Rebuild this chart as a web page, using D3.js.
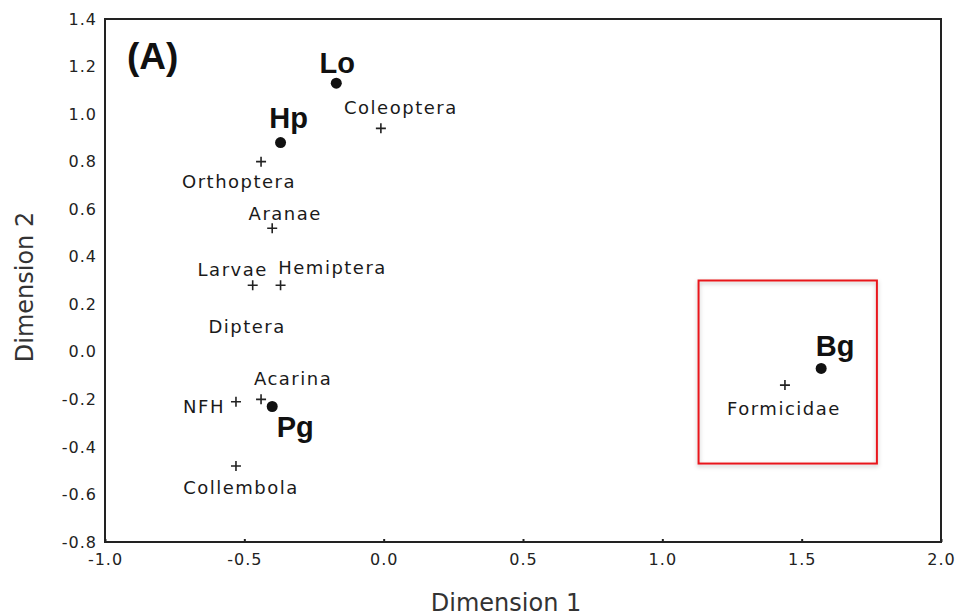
<!DOCTYPE html>
<html>
<head>
<meta charset="utf-8">
<script src="https://cdn.jsdelivr.net/npm/d3@7"></script>
<style>
  body { margin: 0; background: #fff; }
  text { fill: #111; }
</style>
</head>
<body>
<div id="my_dataviz"></div>
<script>
// sites (filled dots)
var siteNames = ["Lo", "Hp", "Pg", "Bg"];
var siteX = [-0.17, -0.37, -0.40, 1.57];
var siteY = [1.13, 0.88, -0.23, -0.07];

// taxa (plus markers)
var taxaNames = ["Coleoptera", "Orthoptera", "Aranae", "Larvae", "Hemiptera", "Diptera", "Acarina", "NFH", "Collembola", "Formicidae"];
var taxaX = [-0.01, -0.44, -0.40, -0.47, -0.37, -0.49, -0.44, -0.53, -0.53, 1.44];
var taxaY = [0.94, 0.80, 0.52, 0.28, 0.28, 0.04, -0.20, -0.21, -0.48, -0.14];

var xTicks = [-1.0, -0.5, 0.0, 0.5, 1.0, 1.5, 2.0];
var yTicks = [-0.8, -0.6, -0.4, -0.2, 0.0, 0.2, 0.4, 0.6, 0.8, 1.0, 1.2, 1.4];

// highlighted region (data units): x0, x1, y0, y1
var boxX = [1.13, 1.77];
var boxY = [-0.47, 0.30];

// label placement, pixels relative to marker
var taxaLabel = {
  "Coleoptera": [20, -21, "middle"],
  "Orthoptera": [-22, 20, "middle"],
  "Aranae": [13, -15, "middle"],
  "Larvae": [-20, -16, "middle"],
  "Hemiptera": [52, -18, "middle"],
  "Diptera": [0, -16, "middle"],
  "Acarina": [32, -21, "middle"],
  "NFH": [-11, 5, "end"],
  "Collembola": [5, 22, "middle"],
  "Formicidae": [-1, 23, "middle"]
};
var hiddenMarkers = ["Diptera"];
var siteLabel = {
  "Lo": [1, -10],
  "Hp": [8, -15],
  "Pg": [23, 31],
  "Bg": [14, -12]
};

var margin = {top: 19, right: 16, bottom: 74, left: 105},
    width = 957 - margin.left - margin.right,
    height = 616 - margin.top - margin.bottom;

// plain hyphen for negatives, like the original
var fmt = function (d) { return d3.format(".1f")(d).replace("\u2212", "-"); };

var svg = d3.select("#my_dataviz")
  .append("svg")
    .attr("width", 957)
    .attr("height", 616)
  .append("g")
    .attr("transform", "translate(" + margin.left + "," + margin.top + ")");

var x = d3.scaleLinear().domain([-1, 2]).range([0, width]);
var y = d3.scaleLinear().domain([-0.8, 1.4]).range([height, 0]);

var defs = svg.append("defs");
var shadow = defs.append("filter").attr("id", "shadow")
  .attr("x", "-10%").attr("y", "-10%").attr("width", "120%").attr("height", "120%");
shadow.append("feDropShadow")
  .attr("dx", 0).attr("dy", 2).attr("stdDeviation", 2)
  .attr("flood-color", "#000").attr("flood-opacity", 0.25);

// X axis
var xAxis = svg.append("g")
  .attr("transform", "translate(0," + height + ")")
  .call(d3.axisBottom(x).tickValues(xTicks).tickFormat(fmt).tickSizeInner(-3).tickSizeOuter(0));
xAxis.select(".domain").remove();
xAxis.selectAll("line").attr("stroke", "#222").attr("stroke-width", 2);
xAxis.selectAll("text")
  .attr("y", 12)
  .attr("dy", "0.71em")
  .style("font-family", "DejaVu Sans")
  .style("font-size", "16px")
  .style("letter-spacing", "1px")
  .style("fill", "#222");

// Y axis
var yAxis = svg.append("g")
  .call(d3.axisLeft(y).tickValues(yTicks).tickFormat(fmt).tickSize(0));
yAxis.select(".domain").remove();
yAxis.selectAll("text")
  .attr("x", -8)
  .style("font-family", "DejaVu Sans")
  .style("font-size", "16px")
  .style("letter-spacing", "1px")
  .style("fill", "#222");

// frame
svg.append("rect")
  .attr("width", width)
  .attr("height", height)
  .attr("fill", "none")
  .attr("stroke", "#222")
  .attr("stroke-width", 2);

// axis titles
svg.append("text")
  .attr("x", width / 2 - 17)
  .attr("y", height + 69)
  .attr("text-anchor", "middle")
  .style("font-family", "DejaVu Sans")
  .style("font-size", "24px")
  .style("fill", "#333")
  .text("Dimension 1");

svg.append("text")
  .attr("transform", "translate(" + (-72) + "," + 268 + ") rotate(-90)")
  .attr("text-anchor", "middle")
  .style("font-family", "DejaVu Sans")
  .style("font-size", "24px")
  .style("fill", "#333")
  .text("Dimension 2");

// panel letter
svg.append("text")
  .attr("x", 22)
  .attr("y", 50)
  .style("font-family", "Liberation Sans")
  .style("font-weight", "bold")
  .style("font-size", "37px")
  .text("(A)");

// red box
svg.append("rect")
  .attr("x", x(boxX[0]))
  .attr("y", y(boxY[1]))
  .attr("width", x(boxX[1]) - x(boxX[0]))
  .attr("height", y(boxY[0]) - y(boxY[1]))
  .attr("fill", "none")
  .attr("stroke", "#e8141c")
  .attr("stroke-width", 2)
  .attr("filter", "url(#shadow)");

// taxa
var taxa = taxaNames.map(function (n, i) { return {name: n, x: taxaX[i], y: taxaY[i]}; });

svg.append("g")
  .selectAll("path")
  .data(taxa.filter(function (d) { return hiddenMarkers.indexOf(d.name) < 0; }))
  .enter()
  .append("path")
    .attr("transform", function (d) { return "translate(" + x(d.x) + "," + y(d.y) + ")"; })
    .attr("d", "M-5,0H5M0,-5V5")
    .attr("stroke", "#222")
    .attr("stroke-width", 1.6);

svg.append("g")
  .selectAll("text")
  .data(taxa)
  .enter()
  .append("text")
    .attr("x", function (d) { return x(d.x) + taxaLabel[d.name][0]; })
    .attr("y", function (d) { return y(d.y) + taxaLabel[d.name][1]; })
    .attr("dy", "0.36em")
    .attr("text-anchor", function (d) { return taxaLabel[d.name][2]; })
    .style("font-family", "DejaVu Sans")
    .style("font-size", "18px")
    .style("letter-spacing", "1.5px")
    .style("fill", "#1a1a1a")
    .text(function (d) { return d.name; });

// sites
var sites = siteNames.map(function (n, i) { return {name: n, x: siteX[i], y: siteY[i]}; });

svg.append("g")
  .selectAll("circle")
  .data(sites)
  .enter()
  .append("circle")
    .attr("cx", function (d) { return x(d.x); })
    .attr("cy", function (d) { return y(d.y); })
    .attr("r", 5.5)
    .style("fill", "#111");

svg.append("g")
  .selectAll("text")
  .data(sites)
  .enter()
  .append("text")
    .attr("x", function (d) { return x(d.x) + siteLabel[d.name][0]; })
    .attr("y", function (d) { return y(d.y) + siteLabel[d.name][1]; })
    .attr("text-anchor", "middle")
    .style("font-family", "Liberation Sans")
    .style("font-weight", "bold")
    .style("font-size", "29px")
    .style("fill", "#111")
    .text(function (d) { return d.name; });
</script>
</body>
</html>
